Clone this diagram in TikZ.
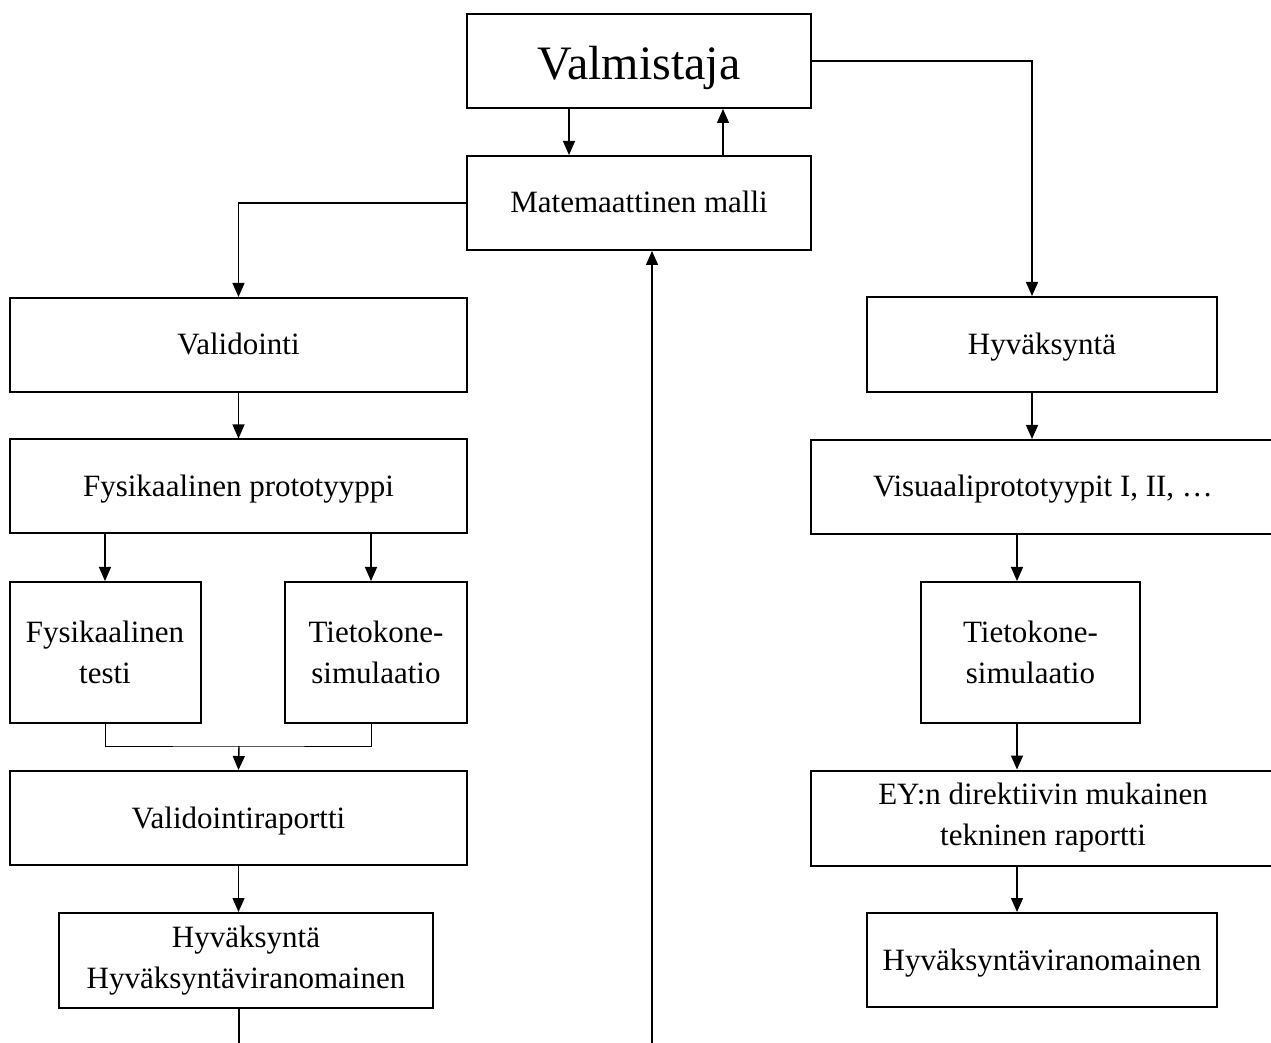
\documentclass[tikz,border=0pt]{standalone}
\usepackage{fontspec}
\setmainfont{Liberation Serif}
\usetikzlibrary{arrows.meta, positioning}

\begin{document}
\begin{tikzpicture}[x=0.5pt, y=-0.5pt, >={Triangle[width=6pt,length=7pt]},
    box/.style={draw, line width=1pt, align=center, inner sep=0pt,
        font=\fontsize{15.5}{20.5}\selectfont},
    oneline/.style={text height=12pt, text depth=2pt},
    wide/.style={box, oneline, minimum width=228.5pt, minimum height=47pt},
    tall/.style={box, minimum height=70.5pt},
    conn/.style={line width=0.7pt}]
    \useasboundingbox (0,0) rectangle (1271,1043);
    \clip (0,0) rectangle (1271,1043);

    % top
    \node[box, minimum width=172pt, minimum height=47pt, text height=21pt, text depth=2pt,
        font=\fontsize{24}{28}\selectfont] (valm) at (639,61) {Valmistaja};
    \node[box, oneline, minimum width=172pt, minimum height=47pt] (matem) at (639,203) {Matemaattinen malli};

    % left column
    \node[wide] (valid) at (238.5,345) {Validointi};
    \node[wide] (fproto) at (238.5,486.5) {Fysikaalinen prototyyppi};
    \node[tall, minimum width=95.5pt] (ftest) at (105,652.5) {Fysikaalinen\\testi};
    \node[tall, minimum width=91pt] (tsim1) at (376,652.5) {Tietokone-\\simulaatio};
    \node[wide] (vraport) at (238.5,818) {Validointiraportti};
    \node[box, minimum width=187pt, minimum height=47.5pt] (hyv1) at (246,960.5) {Hyväksyntä\\Hyväksyntäviranomainen};

    % right column
    \node[box, oneline, minimum width=175pt, minimum height=47.5pt] (hyv2) at (1042,344.5) {Hyväksyntä};
    \node[box, oneline, minimum width=232pt, minimum height=47pt] (vproto) at (1043,487) {Visuaaliprototyypit I, II, …};
    \node[tall, minimum width=109.5pt] (tsim2) at (1030.5,652.5) {Tietokone-\\simulaatio};
    \node[box, minimum width=232pt, minimum height=47.5pt] (eyrap) at (1043,818) {EY:n direktiivin mukainen\\tekninen raportti};
    \node[box, oneline, minimum width=175pt, minimum height=47pt] (hviran) at (1042,960) {Hyväksyntäviranomainen};

    \coordinate (join) at (239,746);
    \coordinate (lend) at (239,1050);
    \coordinate (mstart) at (652,1050);

    % connectors
    \draw[conn,->] ([xshift=-35pt]valm.south) -- ([xshift=-35pt]matem.north);
    \draw[conn,->] ([xshift=42pt]matem.north) -- ([xshift=42pt]valm.south);
    \draw[conn,->] (valm.east) -| ([xshift=-5pt]hyv2.north);
    \draw[conn,->] (matem.west) -| (valid.north);
    \draw[conn,->] (valid) -- (fproto);
    \draw[conn,->] (fproto.south -| ftest.north) -- (ftest.north);
    \draw[conn,->] ([xshift=-2.5pt]fproto.south -| tsim1.north) -- ([xshift=-2.5pt]tsim1.north);
    \draw[line width=0.5pt] (ftest.south) |- (join) -| ([xshift=-2.5pt]tsim1.south);
    \draw[conn,->] (join) -- (vraport.north);
    \draw[conn,->] (vraport.south) -- (vraport.south |- hyv1.north);
    \draw[conn] (lend |- hyv1.south) -- (lend);
    \draw[conn,->] (mstart) -- (mstart |- matem.south);

    \draw[conn,->] ([xshift=-5pt]hyv2.south) -- ([xshift=-5pt]hyv2.south |- vproto.north);
    \draw[conn,->] ([xshift=-6.75pt]tsim2.north |- vproto.south) -- ([xshift=-6.75pt]tsim2.north);
    \draw[conn,->] ([xshift=-6.75pt]tsim2.south) -- ([xshift=-6.75pt]tsim2.south |- eyrap.north);
    \draw[conn,->] ([xshift=-6.75pt]tsim2.south |- eyrap.south) -- ([xshift=-6.75pt]tsim2.south |- hviran.north);
\end{tikzpicture}
\end{document}
